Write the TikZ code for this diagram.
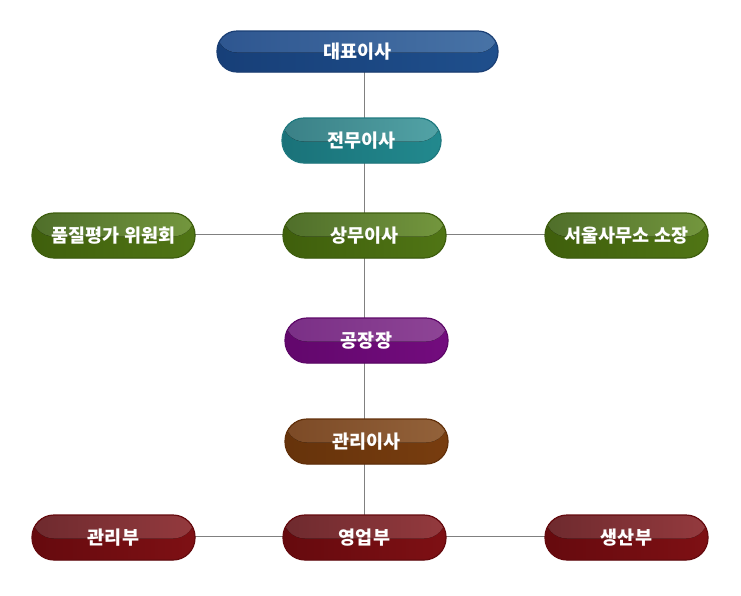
\documentclass[tikz,border=0pt]{standalone}
\usepackage{fontspec}
\newfontfamily\kr{Noto Sans CJK KR}
\usetikzlibrary{backgrounds}
\definecolor{bluel}{HTML}{4873A6}\definecolor{bluell}{HTML}{2E5690}\definecolor{blued}{HTML}{1F4F8C}\definecolor{bluedd}{HTML}{173F78}\definecolor{blueb}{HTML}{1A3F75}
\definecolor{teall}{HTML}{52A3A6}\definecolor{tealll}{HTML}{3A8086}\definecolor{teald}{HTML}{22898E}\definecolor{taldd}{HTML}{1A7279}\definecolor{tealb}{HTML}{1F7A80}
\definecolor{grnl}{HTML}{74973E}\definecolor{grnll}{HTML}{4F6E2A}\definecolor{grnd}{HTML}{507515}\definecolor{grndd}{HTML}{3F5F0C}\definecolor{grnb}{HTML}{3E5E0E}
\definecolor{purl}{HTML}{8E4596}\definecolor{purll}{HTML}{7A2F86}\definecolor{purd}{HTML}{730C7E}\definecolor{purdd}{HTML}{62076C}\definecolor{purb}{HTML}{5E0868}
\definecolor{brnl}{HTML}{93623A}\definecolor{brnll}{HTML}{7C4A26}\definecolor{brnd}{HTML}{783D0F}\definecolor{brndd}{HTML}{66330B}\definecolor{brnb}{HTML}{62300A}
\definecolor{redl}{HTML}{943A3E}\definecolor{redll}{HTML}{6E2A2E}\definecolor{redd}{HTML}{7E1014}\definecolor{reddd}{HTML}{660A0E}\definecolor{redb}{HTML}{650A0E}
\tikzset{
  pill/.style n args={5}{rectangle, rounded corners=22pt, minimum height=45pt, inner sep=0pt,
    draw=#5, line width=1.2pt, text=white, font=\kr\bfseries\fontsize{18.5}{22}\selectfont,
    path picture={
      \fill[left color=#4, right color=#3] (path picture bounding box.south west) rectangle (path picture bounding box.north east);
      \fill[left color=#2, right color=#1] (path picture bounding box.north west) rectangle ([yshift=-1pt]path picture bounding box.east);
    }},
  link/.style={draw=black!50, line width=0.8pt}
}
\begin{document}
\begin{tikzpicture}[x=1pt,y=-1pt]
\useasboundingbox (0,0) rectangle (741,595);
\node[pill={bluel}{bluell}{blued}{bluedd}{blueb}, minimum width=281pt, minimum height=41pt, rounded corners=20pt] (daepyo) at (357.5,51.5) {대표이사};
\node[pill={teall}{tealll}{teald}{taldd}{tealb}, minimum width=159pt] (jeonmu) at (361.5,140.5) {전무이사};
\node[pill={grnl}{grnll}{grnd}{grndd}{grnb}, minimum width=163pt] (pumjil) at (113.5,235.5) {품질평가 위원회};
\node[pill={grnl}{grnll}{grnd}{grndd}{grnb}, minimum width=163pt] (sangmu) at (364.5,235.5) {상무이사};
\node[pill={grnl}{grnll}{grnd}{grndd}{grnb}, minimum width=163pt] (seoul) at (626.5,235.5) {서울사무소 소장};
\node[pill={purl}{purll}{purd}{purdd}{purb}, minimum width=163pt] (gongjang) at (366.5,340.5) {공장장};
\node[pill={brnl}{brnll}{brnd}{brndd}{brnb}, minimum width=163pt] (gwanri) at (366.5,441.5) {관리이사};
\node[pill={redl}{redll}{redd}{reddd}{redb}, minimum width=163pt] (gwanribu) at (113.5,537.5) {관리부};
\node[pill={redl}{redll}{redd}{reddd}{redb}, minimum width=163pt] (yeongup) at (364.5,537.5) {영업부};
\node[pill={redl}{redll}{redd}{reddd}{redb}, minimum width=163pt] (saengsan) at (626.5,537.5) {생산부};
\begin{scope}[on background layer]
\draw[link] (daepyo.center -| yeongup.center) -- (yeongup.center);
\draw[link] ([yshift=1.5pt]pumjil.center) -- ([yshift=1.5pt]seoul.center);
\draw[link] ([yshift=1.5pt]gwanribu.center) -- ([yshift=1.5pt]saengsan.center);
\end{scope}
\end{tikzpicture}
\end{document}
